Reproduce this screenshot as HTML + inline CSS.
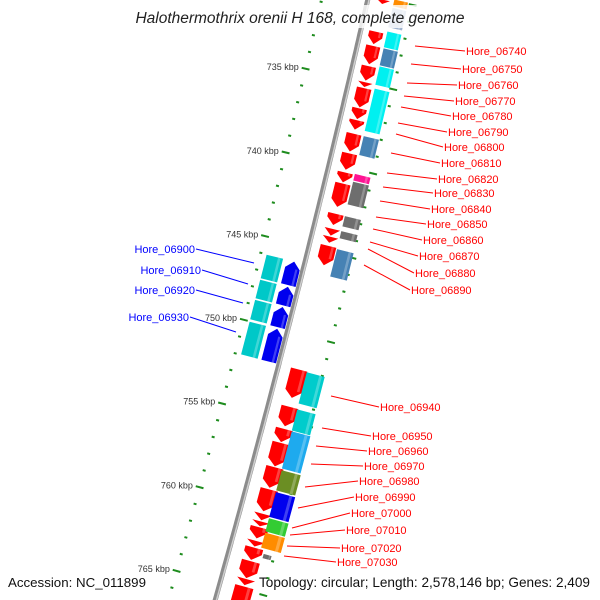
<!DOCTYPE html>
<html><head><meta charset="utf-8">
<style>
html,body{margin:0;padding:0;background:#fff;}
svg{display:block;font-family:"Liberation Sans",sans-serif;}
</style></head>
<body>
<svg id="chart" width="600" height="600" viewBox="0 0 600 600" xmlns="http://www.w3.org/2000/svg">
<g id="ticks"></g>
<g id="backbone"></g>
<g id="genes"></g>
<g id="labellines"></g>
<g id="labels"></g>
<rect x="128" y="5" width="344" height="23" fill="#fff" opacity="0.8"/>
<text x="300" y="23" text-anchor="middle" font-size="15.5" font-style="italic" fill="#222">Halothermothrix orenii H 168, complete genome</text>
<text x="8" y="587" font-size="13.3" fill="#111">Accession: NC_011899</text>
<text x="590" y="587" text-anchor="end" font-size="13.6" fill="#111">Topology: circular; Length: 2,578,146 bp; Genes: 2,409</text>
</svg>
<script>
// Gene data (kbp)
const geneStart = [730.06,731.96,732.8,734.0,734.95,735.3,736.5,737.2,738.0,739.17,740.3,740.95,742.74,743.63,744.1,744.64,
  751.96,754.17,755.48,756.3,757.74,759.05,760.5,760.95,761.3,762.1,762.5,763.3,764.35,764.8,
  729.9,730.4,731.8,732.8,733.87,735.18,738.0,740.24,740.7,742.74,743.63,744.7,
  752.0,754.2,755.5,757.8,759.1,760.65,761.5,762.7,
  746.0,747.5,748.7,750.0,746.0,747.5,748.7,750.0];
const geneEnd = [730.36,732.74,733.93,734.9,735.28,736.49,737.18,737.8,739.1,740.18,740.93,742.38,743.45,744.08,744.5,745.83,
  753.69,755.36,756.3,757.74,759.0,760.4,760.93,761.28,762.0,762.48,763.27,764.35,764.76,766.4,
  730.35,731.6,732.78,733.85,735.0,737.74,739.17,740.68,742.1,743.4,744.1,746.37,
  753.9,755.5,757.75,759.05,760.62,761.48,762.44,763.0,
  747.45,748.65,749.95,752.0,747.45,748.65,749.9,752.0];
const geneTrack = [1,1,1,1,1,1,1,1,1,1,1,1,1,1,1,1, 1,1,1,1,1,1,1,1,1,1,1,1,1,1,
  2,2,2,2,2,2,2,2,2,2,2,2, 2,2,2,2,2,2,2,3, -1,-1,-1,-1,-2,-2,-2,-2];
const geneColor = ["#f00","#f00","#f00","#f00","#f00","#f00","#f00","#f00","#f00","#f00","#f00","#f00","#f00","#f00","#f00","#f00",
  "#f00","#f00","#f00","#f00","#f00","#f00","#f00","#f00","#f00","#f00","#f00","#f00","#f00","#f00",
  "#ff8c00","#9fb4d0","#00f0f0","#4682b4","#00f0f0","#00f0f0","#4682b4","#ff1493","#6e6e6e","#6e6e6e","#6e6e6e","#4682b4",
  "#00cccc","#00cccc","#1eaaee","#6b8e23","#0000ee","#33cc33","#ff8c00","#6e6e6e",
  "#0000ee","#0000ee","#0000ee","#0000ee","#00c8c8","#00c8c8","#00c8c8","#00c8c8"];
const tickKbp = [730,731,732,733,734,735,736,737,738,739,740,741,742,743,744,745,746,747,748,749,750,751,752,753,754,755,756,757,758,759,760,761,762,763,764,765,766,767];
const tickLabels = ["735 kbp","740 kbp","745 kbp","750 kbp","755 kbp","760 kbp","765 kbp"];
const tickLabelKbp = [735,740,745,750,755,760,765];
// label layout
const labelText = ["Hore_06740","Hore_06750","Hore_06760","Hore_06770","Hore_06780","Hore_06790","Hore_06800","Hore_06810","Hore_06820","Hore_06830","Hore_06840","Hore_06850","Hore_06860","Hore_06870","Hore_06880","Hore_06890",
 "Hore_06900","Hore_06910","Hore_06920","Hore_06930",
 "Hore_06940","Hore_06950","Hore_06960","Hore_06970","Hore_06980","Hore_06990","Hore_07000","Hore_07010","Hore_07020","Hore_07030"];
const labelX = [465,461,457,454,451,447,443,440,437,433,430,426,422,418,414,410, 196,202,196,190, 379,371,367,363,358,354,350,345,340,336];
const labelY = [55,73,89,105,120,136,151,167,183,197,213,228,244,260,277,294, 253,274,294,321, 411,440,455,470,485,501,517,534,552,566];
const lineFromX = [415,411,407,404,401,398,396,391,387,383,380,376,373,370,368,364, 254,248,243,236, 331,322,316,311,305,298,292,290,287,284];
const lineFromY = [46,64,83,96,107,123,134,153,173,187,201,217,229,242,249,265, 263,284,303,332, 396,428,446,464,487,508,528,535,546,556];

const NS="http://www.w3.org/2000/svg";
function bx(t){const d=t-321;return 290-0.256*d-0.0000438*d*d;}
function dbx(t){return -0.256-0.0000876*(t-321);}
function tOf(k){return 79+(k-735)*16.8;}
function P(t,o){const d=dbx(t),n=Math.sqrt(1+d*d);return [bx(t)+o/n, t-o*d/n];}
function mk(tag,attrs,parent){const e=document.createElementNS(NS,tag);for(const k in attrs)e.setAttribute(k,attrs[k]);parent.appendChild(e);return e;}
function trackOff(tr,t){
  if(tr===1)return [8+0.012*t, 22+0.02*t];
  if(tr===2)return [26+0.008*t, 40+0.02*t];
  if(tr===3)return [30+0.008*t, 36+0.012*t];
  if(tr===-1)return [-18,-3];
  return [-39,-22];
}
// backbone
const bb=document.getElementById('backbone');
let pts=[],pts2=[];
for(let t=-10;t<=615;t+=5){const p=P(t,0);pts.push(p[0].toFixed(1)+','+p[1].toFixed(1));const q=P(t,1.3);pts2.push(q[0].toFixed(1)+','+q[1].toFixed(1));}
const bl=mk('polyline',{points:pts.join(' '),fill:'none',stroke:'#8c8c8c','stroke-width':5},bb);


const bl2=mk('polyline',{points:pts2.join(' '),fill:'none',stroke:'#cfcfcf','stroke-width':1.5},bb);


// ticks
const tg=document.getElementById('ticks');
tickKbp.forEach(k=>{
  const t=tOf(k);const major=(k%5===0);
  [-1,1].forEach(s=>{
    const a=P(t,s*(major?41:43.5)),b=P(t,s*(major?49:46.5));
    const l=mk('line',{x1:a[0],y1:a[1],x2:b[0],y2:b[1],stroke:'#1e8c1e','stroke-width':2},tg);
    
    
  });
});
tickLabelKbp.forEach((k,i)=>{
  const p=P(tOf(k),-52);
  const tx=mk('text',{x:p[0],y:p[1]+3,'text-anchor':'end','font-size':9,fill:'#333'},tg);
  tx.textContent=tickLabels[i];
  
  
});
// genes
const gg=document.getElementById('genes');
geneStart.forEach((k1,i)=>{
  const t1=tOf(k1)+0.4,t2=tOf(geneEnd[i])-0.4,tr=geneTrack[i];
  const tm=(t1+t2)/2;const [o1,o2]=trackOff(tr,tm);const om=(o1+o2)/2;
  let poly;
  if(tr===1){const h=Math.min(7,t2-t1);poly=[P(t1,o1),P(t1,o2),P(t2-h,o2),P(t2,om),P(t2-h,o1)];}
  else if(tr===-1){const h=Math.min(7,t2-t1);poly=[P(t1,om),P(t1+h,o2),P(t2,o2),P(t2,o1),P(t1+h,o1)];}
  else poly=[P(t1,o1),P(t1,o2),P(t2,o2),P(t2,o1)];
  const e=mk('polygon',{points:poly.map(p=>p[0].toFixed(1)+','+p[1].toFixed(1)).join(' '),fill:geneColor[i]},gg);
  
  
  const s1=o1+(o2-o1)*0.7,s2=o1+(o2-o1)*0.85;
  const tEnd=(tr===1)?t2-Math.min(7,t2-t1):t2, tBeg=(tr===-1)?t1+Math.min(7,t2-t1):t1;
  if(tEnd-tBeg>2){
    const sp=[P(tBeg,s1),P(tBeg,s2),P(tEnd,s2),P(tEnd,s1)];
    const st=mk('polygon',{points:sp.map(p=>p[0].toFixed(1)+','+p[1].toFixed(1)).join(' '),fill:'#fff',opacity:0.25},gg);
    
    
  }
});
// labels
const lg=document.getElementById('labels'),ll=document.getElementById('labellines');
labelText.forEach((txt,i)=>{
  const left=(i>=16&&i<20);const col=left?'#00f':'#f00';
  const tx=left?labelX[i]-1:labelX[i]+1;
  const ln=mk('line',{x1:lineFromX[i],y1:lineFromY[i],x2:labelX[i],y2:labelY[i]-4,stroke:col,'stroke-width':1},ll);
  
  
  const t=mk('text',{x:tx,y:labelY[i],'font-size':11,fill:col,'text-anchor':left?'end':'start'},lg);
  t.textContent=txt;
  
  
});
</script>
</body></html>
